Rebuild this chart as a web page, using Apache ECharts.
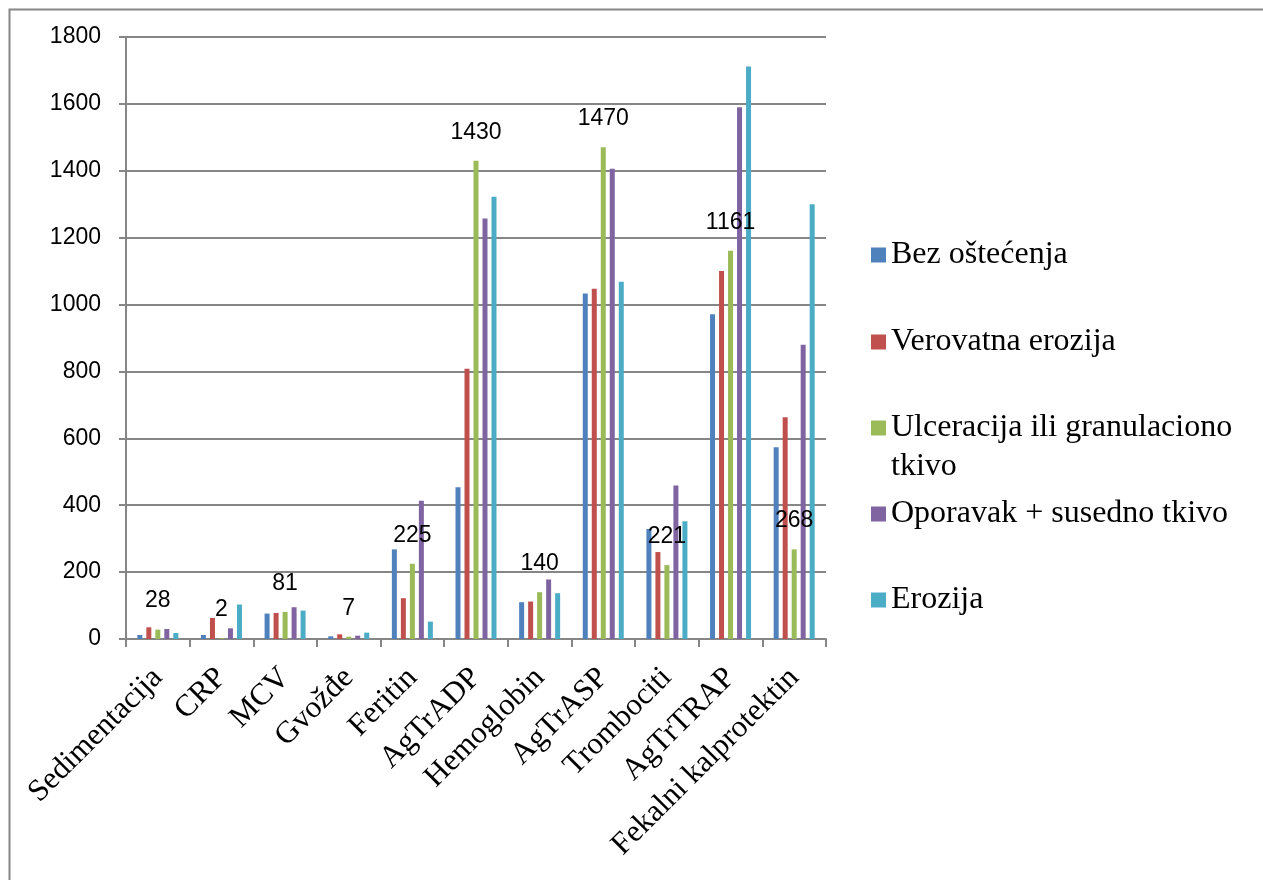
<!DOCTYPE html>
<html>
<head>
<meta charset="utf-8">
<title>Chart</title>
<script src="https://cdn.jsdelivr.net/npm/echarts@6/dist/echarts.min.js"></script>
<style>
  html, body { margin: 0; padding: 0; background: #fff; }
  #chart { width: 1263px; height: 880px; }
</style>
</head>
<body>
<div id="chart"></div>
<script>
// kategorije na x osi
var categories = ['Sedimentacija', 'CRP', 'MCV', 'Gvožđe', 'Feritin', 'AgTrADP', 'Hemoglobin', 'AgTrASP', 'Trombociti', 'AgTrTRAP', 'Fekalni kalprotektin']

// vrednosti po grupama
var bezOstecenja = [12, 12, 76, 8, 268, 454, 110, 1033, 329, 971, 573]
var verovatnaErozija = [35, 63, 78, 14, 122, 808, 112, 1047, 260, 1100, 663]
var ulceracija = [28, 2, 81, 7, 225, 1430, 140, 1470, 221, 1161, 268]
var oporavak = [30, 32, 95, 10, 413, 1257, 178, 1406, 459, 1590, 880]
var erozija = [18, 103, 85, 19, 52, 1322, 137, 1068, 352, 1712, 1300]

var seriesNames = ['Bez oštećenja', 'Verovatna erozija', 'Ulceracija ili granulaciono tkivo', 'Oporavak + susedno tkivo', 'Erozija']
var seriesData = [bezOstecenja, verovatnaErozija, ulceracija, oporavak, erozija]
var colors = ['#4F81BD', '#C0504D', '#9BBB59', '#8064A2', '#4BACC6']

// y osa
var yMin = 0
var yMax = 1800
var yStep = 200

var myEcharts = echarts.init(document.getElementById('chart'))

var gray = '#868686'
var sansFont = 'Liberation Sans'
var serifFont = 'Liberation Serif'

// svaka legenda posebno, da bi razmak bio kao u originalu
var legendTops = [235.5, 322.5, 369.5, 494.5, 580.5]
var legends = seriesNames.map(function (name, i) {
    return {
        data: [name],
        orient: 'vertical',
        left: 871,
        top: legendTops[i],
        padding: 0,
        icon: 'rect',
        itemWidth: 15,
        itemHeight: 15,
        selectedMode: false,
        // duga legenda ide u dva reda, ikonica ostaje uz prvi red
        formatter: function (n) {
            return n === 'Ulceracija ili granulaciono tkivo' ? ' \nUlceracija ili granulaciono\ntkivo' : n
        },
        textStyle: {
            fontFamily: serifFont,
            fontSize: 32,
            color: '#000',
            lineHeight: 39
        }
    }
})

var series = seriesNames.map(function (name, i) {
    var s = {
        name: name,
        type: 'bar',
        data: seriesData[i],
        barWidth: 5,
        barGap: '80%',
        itemStyle: { color: colors[i] }
    }
    // samo zelena serija ima oznake
    if (i === 2) {
        s.label = {
            show: true,
            position: 'top',
            distance: 17,
            fontFamily: sansFont,
            fontSize: 23,
            color: '#000'
        }
    }
    return s
})

myEcharts.setOption({
    animation: false,
    color: colors,
    graphic: [
        {
            type: 'rect',
            left: 7,
            top: 7,
            shape: { width: 1255, height: 900 },
            style: { fill: 'none', stroke: gray, lineWidth: 2 },
            z: -1
        }
    ],
    legend: legends,
    grid: {
        left: 126,
        right: 437,
        top: 37,
        bottom: 241
    },
    xAxis: {
        type: 'category',
        data: categories,
        axisLine: { lineStyle: { color: gray, width: 2 } },
        axisTick: { show: true, length: 8, lineStyle: { color: gray, width: 2 } },
        axisLabel: {
            interval: 0,
            rotate: 45,
            margin: 34,
            fontFamily: serifFont,
            fontSize: 31,
            color: '#000'
        }
    },
    yAxis: {
        type: 'value',
        min: yMin,
        max: yMax,
        interval: yStep,
        axisLine: { show: true, lineStyle: { color: gray, width: 2 } },
        axisTick: { show: true, length: 7, lineStyle: { color: gray, width: 2 } },
        splitLine: { lineStyle: { color: gray, width: 2 } },
        axisLabel: {
            margin: 25,
            fontFamily: sansFont,
            fontSize: 23,
            color: '#000',
            formatter: function (v) { return String(v) }
        }
    },
    series: series
})
</script>
</body>
</html>
